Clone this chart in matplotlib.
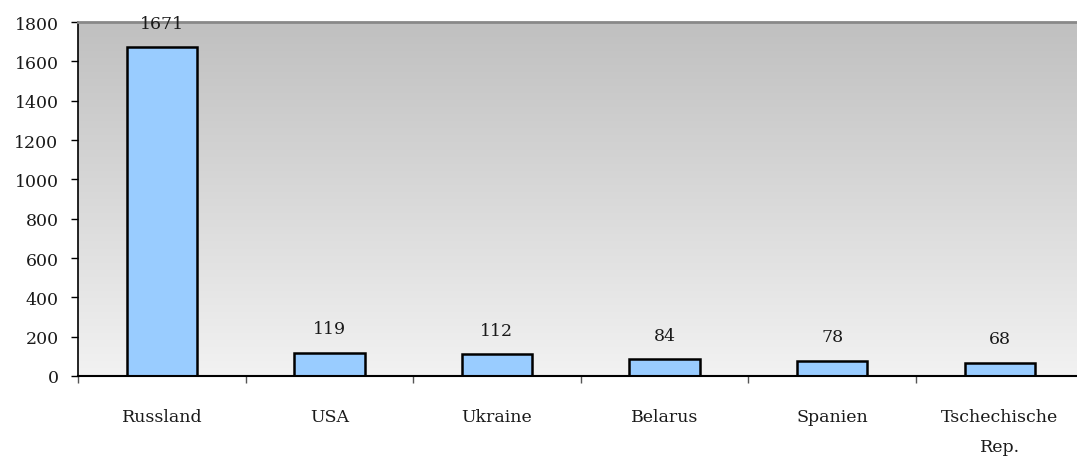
import numpy as np
import matplotlib
matplotlib.use("Agg")
import matplotlib.pyplot as plt
from matplotlib.colors import LinearSegmentedColormap

categories = ["Russland", "USA", "Ukraine", "Belarus", "Spanien", "Tschechische\nRep."]
values = [1671, 119, 112, 84, 78, 68]
yticks = [0, 200, 400, 600, 800, 1000, 1200, 1400, 1600, 1800]

plt.rcParams["font.family"] = ["DejaVu Serif"]

W, H = 1077, 460
fig = plt.figure(figsize=(W / 100, H / 100), dpi=100)
left, right, top, bottom = 78, 1083.6, 23, 377
ax = fig.add_axes([left / W, (H - bottom) / H, (right - left) / W, (bottom - top) / H])

n = len(categories)
x = np.arange(n)
ax.set_xlim(-0.5, n - 0.5)
ax.set_ylim(0, 1800)

# vertical gray gradient in the plot area
cmap = LinearSegmentedColormap.from_list("bg", ["#f2f2f2", "#c0c0c0"])
grad = np.linspace(0, 1, 256).reshape(-1, 1)
ax.imshow(grad, cmap=cmap, origin="lower", aspect="auto",
          extent=(-0.5, n - 0.5, 0, 1800), zorder=0)

ax.bar(x, values, width=0.42, color="#99ccff", edgecolor="black", linewidth=1.8, zorder=2)

for xi, v in zip(x, values):
    ax.annotate(str(v), (xi, v), xytext=(0, 14), textcoords="offset points",
                ha="center", va="baseline", fontsize=12.5, color="#1a1a1a",
                zorder=3, annotation_clip=False)

ax.set_yticks(yticks)
ax.set_yticklabels([str(t) for t in yticks], fontsize=12.5, color="#1a1a1a")
ax.set_xticks(x)
ax.set_xticklabels(categories, fontsize=12.5, linespacing=2.0, color="#1a1a1a")
ax.set_xticks(np.arange(-0.5, n, 1.0), minor=True)
ax.tick_params(axis="x", which="major", length=0, pad=23)
ax.tick_params(axis="x", which="minor", length=5, width=1, color="#555555", direction="out")
ax.tick_params(axis="y", length=5, width=1, direction="out", pad=9)

ax.spines["left"].set_linewidth(1.2)
ax.spines["bottom"].set_linewidth(1.5)
ax.spines["top"].set_color("#888888")
ax.spines["top"].set_linewidth(2)
ax.spines["right"].set_visible(False)

fig.savefig("out.png", dpi=100)
